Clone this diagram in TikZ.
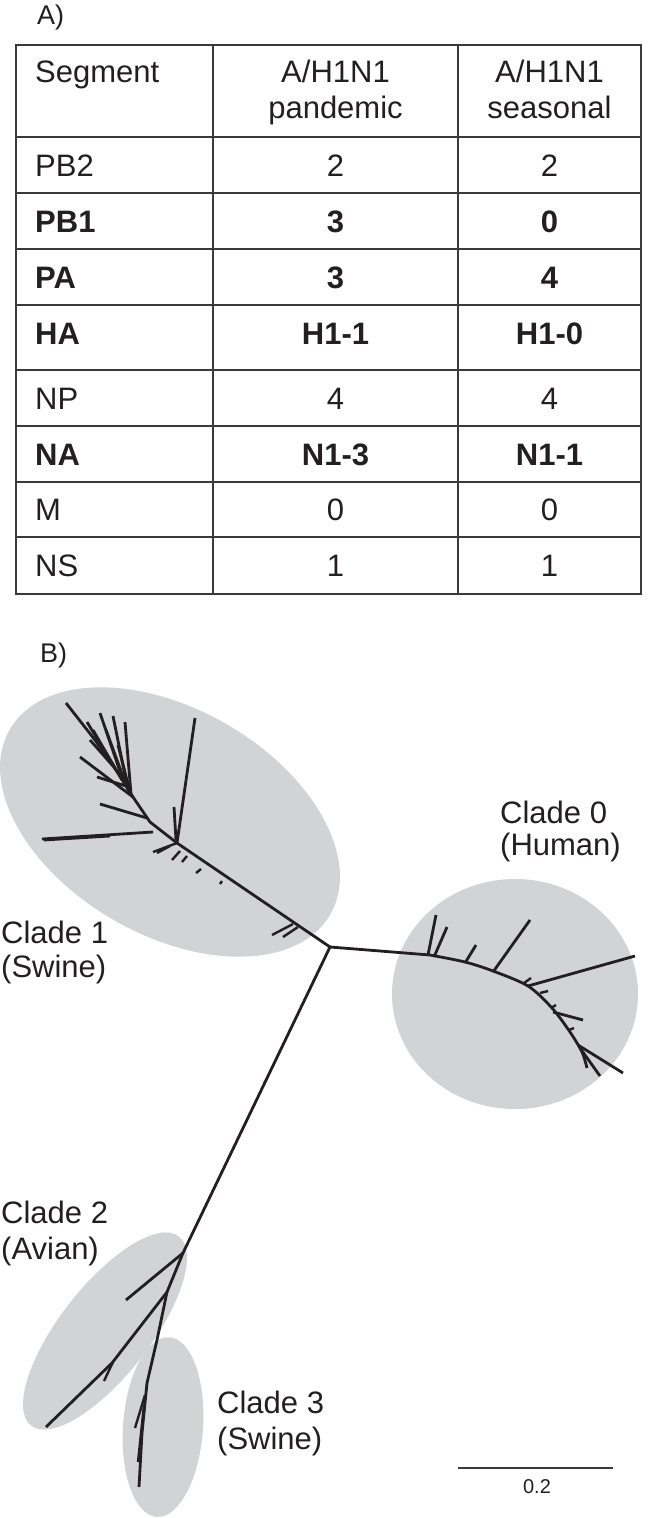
\documentclass[tikz,border=0pt]{standalone}
\usepackage{fontspec}
\setmainfont{Liberation Sans}
\definecolor{inkblack}{HTML}{231F20}
\definecolor{gridgray}{HTML}{3A3A3A}
\definecolor{cladegray}{HTML}{D1D3D4}

\begin{document}
\begin{tikzpicture}[x=1pt,y=-1pt,
    gridline/.style={line width=1.8pt,gridgray},
    tabletext/.style={inner sep=0pt,anchor=base,text=inkblack,font=\fontsize{31}{36}\selectfont},
    paneltext/.style={inner sep=0pt,anchor=base west,text=inkblack,font=\fontsize{27}{30}\selectfont},
    cladelabel/.style={inner sep=0pt,anchor=base west,text=inkblack,font=\fontsize{31}{36}\selectfont},
    branch/.style={line width=2.8pt,inkblack,line join=round},
    twig/.style={line width=2.4pt,inkblack}]
        \useasboundingbox (0,0) rectangle (650,1518);

        % A) table
        \node[paneltext] (lblA) at (37,24) {A)};
        \draw[gridline] (16,45) rectangle (641,594);
        \foreach \yy in {137,193,249,305,370,426,482,537}
            \draw[gridline] (16,\yy) -- (641,\yy);
        \foreach \xx in {213,458}
            \draw[gridline] (\xx,45) -- (\xx,594);
        \node[tabletext,anchor=base west] (hseg) at (35,82) {Segment};
        \node[tabletext] (hpanA) at (335.5,82) {A/H1N1};
        \node[tabletext] (hpanB) at (335.5,118) {pandemic};
        \node[tabletext] (hseaA) at (549.5,82) {A/H1N1};
        \node[tabletext] (hseaB) at (549.5,118) {seasonal};
        \foreach \nm/\yy/\sg/\pd/\ss/\ft in {pbtwo/176/PB2/2/2/\mdseries,
                pbone/232/PB1/3/0/\bfseries, pa/288/PA/3/4/\bfseries,
                ha/344/HA/H1-1/H1-0/\bfseries, np/409/NP/4/4/\mdseries,
                na/465/NA/N1-3/N1-1/\bfseries, mm/520/M/0/0/\mdseries,
                ns/576/NS/1/1/\mdseries}{
            \node[tabletext,anchor=base west] (seg-\nm) at (35,\yy) {\ft\sg};
            \node[tabletext] (pan-\nm) at (335.5,\yy) {\ft\pd};
            \node[tabletext] (sea-\nm) at (549.5,\yy) {\ft\ss};
        }

        % B) tree
        \node[paneltext] (lblB) at (40,662) {B)};
        \fill[cladegray,rotate around={-30:(170,822)}] (170,822) ellipse [x radius=185,y radius=113];
        \fill[cladegray] (515,994) ellipse [x radius=123,y radius=115];
        \fill[cladegray,rotate around={52:(105,1331)}] (105,1331) ellipse [x radius=120,y radius=45];
        \fill[cladegray,rotate around={-4:(163,1427)}] (163,1427) ellipse [x radius=40,y radius=90];

        \coordinate (root) at (330,947);
        \coordinate (hubone) at (177,843);
        \coordinate (hubzero) at (430,955);
        \coordinate (hubtwo) at (183,1253);
        \coordinate (hubthree) at (167,1292);

        % clade 1
        \draw[branch] (root) -- (hubone) -- (150,822) -- (133,797) -- (118,773) -- (95,740) -- (66,703);
        \draw[branch] (hubone) -- (195,718);
        \draw[branch] (176,840) -- (174,807);
        \draw[branch] (153,832) -- (42,839);
        \draw[branch] (110,836) -- (44,840);
        \draw[branch] (147,818) -- (100,804);
        \draw[branch] (133,797) -- (80,757);
        \draw[branch] (126,786) -- (97,777);
        \draw[branch] (131,794) -- (125,722);
        \draw[branch] (128,790) -- (113,716);
        \draw[branch] (125,786) -- (100,713);
        \draw[branch] (128,790) -- (106,730);
        \draw[branch] (130,792) -- (118,745);
        \draw[branch] (118,773) -- (87,722);
        \draw[branch] (122,780) -- (93,730);
        \draw[branch] (113,766) -- (90,740);
        \draw[twig] (hubone) -- (153,852);
        \draw[twig] (170,846) -- (157,853);
        \draw[twig] (180,851) -- (172,860);
        \draw[twig] (187,856) -- (182,862);
        \draw[twig] (201,869) -- (196,873);
        \draw[twig] (222,881) -- (220,884);
        \draw[twig] (293,924) -- (272,935);
        \draw[twig] (298,927) -- (283,937);

        % clade 0
        \draw[branch] (root) -- (hubzero);
        \draw[branch] plot[smooth] coordinates {(hubzero) (465,962) (493,971) (528,986) (552,1008) (570,1032) (582,1052) (587,1068)};
        \draw[branch] (428,955) -- (436,915);
        \draw[branch] (434,957) -- (447,927);
        \draw[branch] (465,963) -- (476,945);
        \draw[branch] (493,972) -- (530,920);
        \draw[branch] (528,986) -- (635,956);
        \draw[twig] (524,983) -- (531,978);
        \draw[twig] (540,993) -- (548,991);
        \draw[twig] (551,1008) -- (556,1005);
        \draw[branch] (553,1012) -- (583,1020);
        \draw[twig] (569,1030) -- (574,1028);
        \draw[branch] (578,1045) -- (623,1073);
        \draw[branch] (580,1048) -- (600,1076);

        % clades 2 and 3
        \draw[branch] (root) -- (hubtwo) -- (126,1300);
        \draw[branch] (hubtwo) -- (hubthree) -- (112,1363) -- (46,1427);
        \draw[twig] (113,1362) -- (104,1381);
        \draw[branch] (hubthree) -- (157,1340) -- (147,1383) -- (142,1433) -- (139,1487);
        \draw[twig] (145,1395) -- (135,1428);
        \draw[twig] (144,1405) -- (138,1462);

        \node[cladelabel] (czeroA) at (500,823) {Clade 0};
        \node[cladelabel] (czeroB) at (500,855) {(Human)};
        \node[cladelabel] (coneA) at (1,943) {Clade 1};
        \node[cladelabel] (coneB) at (1,977) {(Swine)};
        \node[cladelabel] (ctwoA) at (1,1223) {Clade 2};
        \node[cladelabel] (ctwoB) at (1,1259) {(Avian)};
        \node[cladelabel] (cthreeA) at (217,1413) {Clade 3};
        \node[cladelabel] (cthreeB) at (217,1449) {(Swine)};

        % scale bar
        \coordinate (sbl) at (458,1468);
        \coordinate (sbr) at (613,1468);
        \draw[line width=2.2pt,gridgray] (sbl) -- (sbr);
        \node[tabletext,font=\fontsize{20}{24}\selectfont] (sblabel) at (537,1493) {0.2};
\end{tikzpicture}
\end{document}
